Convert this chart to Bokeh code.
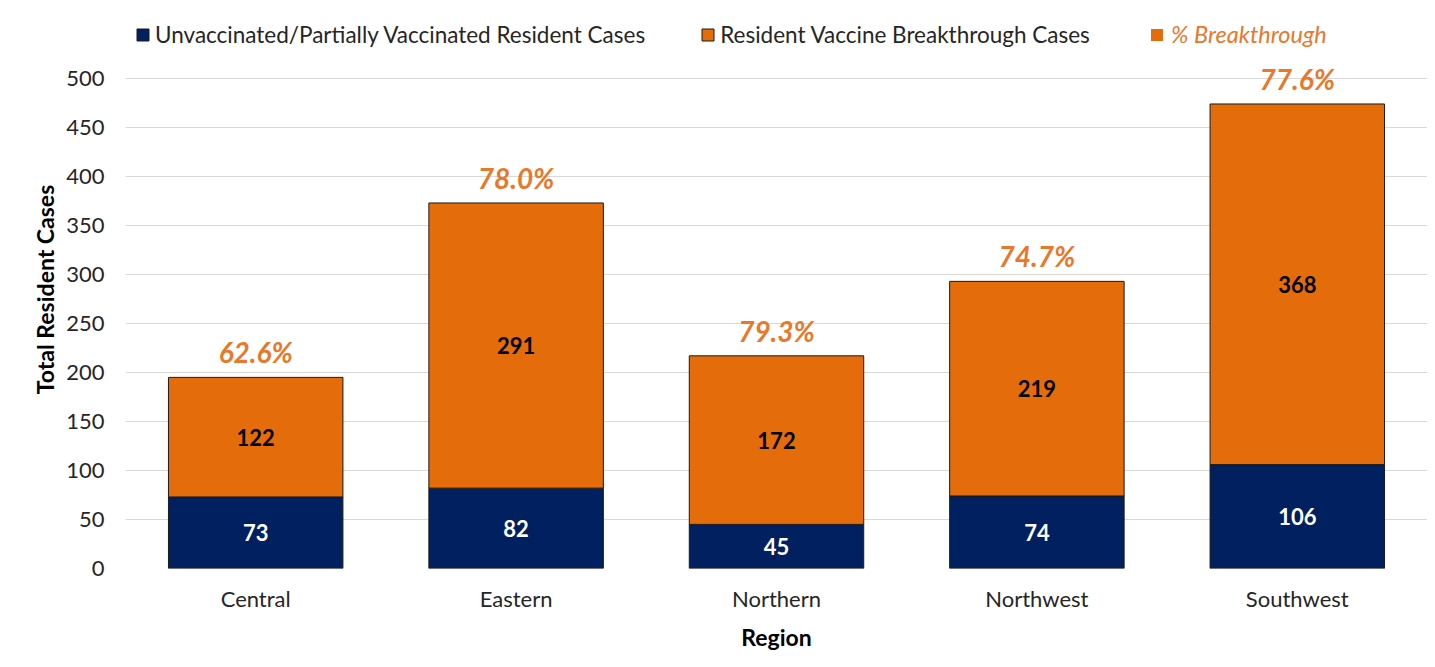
from bokeh.plotting import figure
from bokeh.models import (ColumnDataSource, FactorRange, FixedTicker, LabelSet,
                          Legend, LegendItem)
from bokeh.core.properties import value
from bokeh.embed import file_html
from bokeh.resources import INLINE

regions = ["Central", "Eastern", "Northern", "Northwest", "Southwest"]
unvaccinated = [73, 82, 45, 74, 106]
breakthrough = [122, 291, 172, 219, 368]
pct_labels = ["62.6%", "78.0%", "79.3%", "74.7%", "77.6%"]
y_ticks = [0, 50, 100, 150, 200, 250, 300, 350, 400, 450, 500]

NAVY = "#002060"
ORANGE = "#E46C0A"
TEXT_ORANGE = "#E8782A"
FONT = "Lato"

totals = [u + b for u, b in zip(unvaccinated, breakthrough)]
src = ColumnDataSource(dict(
    region=regions,
    unvac=unvaccinated,
    brk=breakthrough,
    total=totals,
    unvac_mid=[u / 2 for u in unvaccinated],
    brk_mid=[u + b / 2 for u, b in zip(unvaccinated, breakthrough)],
    unvac_txt=[str(v) for v in unvaccinated],
    brk_txt=[str(v) for v in breakthrough],
    pct=pct_labels,
))

# frame: 558 px tall, 490 px per 500 cases
p = figure(x_range=FactorRange(*regions, range_padding=0),
           y_range=(0, 500 * 558 / 490),
           width=1427, height=660, output_backend="svg", toolbar_location=None,
           min_border_left=125, min_border_right=0, min_border_top=10,
           min_border_bottom=92)
p.outline_line_color = None
p.background_fill_color = "white"
p.border_fill_color = "white"

r1 = p.vbar(x="region", bottom=0, top="unvac", width=0.67, source=src,
            fill_color=NAVY, line_color="#1a1a1a", line_width=1)
r2 = p.vbar(x="region", bottom="unvac", top="total", width=0.67, source=src,
            fill_color=ORANGE, line_color="#1a1a1a", line_width=1)
# zero-height bar, only used to give the "% Breakthrough" legend entry a swatch
dummy = p.vbar(x=[regions[0]], bottom=[0], top=[0], width=0.001,
               fill_color=ORANGE, line_color=None)

p.add_layout(LabelSet(x="region", y="unvac_mid", text="unvac_txt", source=src,
                      text_align="center", text_baseline="middle",
                      text_color="white", text_font=value(FONT),
                      text_font_style="bold", text_font_size="22px"))
p.add_layout(LabelSet(x="region", y="brk_mid", text="brk_txt", source=src,
                      text_align="center", text_baseline="middle",
                      text_color="black", text_font=value(FONT),
                      text_font_style="bold", text_font_size="22px"))
p.add_layout(LabelSet(x="region", y="total", text="pct", source=src,
                      y_offset=25, text_align="center", text_baseline="middle",
                      text_color=TEXT_ORANGE, text_font=value(FONT),
                      text_font_style="bold italic", text_font_size="28px"))

# axes
p.yaxis.ticker = FixedTicker(ticks=y_ticks)
for ax in (p.xaxis[0], p.yaxis[0]):
    ax.axis_line_color = None
    ax.major_tick_line_color = None
    ax.minor_tick_line_color = None
    ax.major_label_text_font = FONT
    ax.major_label_text_font_size = "22px"
    ax.major_label_text_color = "#262626"
    ax.axis_label_text_font = FONT
    ax.axis_label_text_font_style = "bold"
    ax.axis_label_text_font_size = "23px"
    ax.axis_label_text_color = "black"
p.xaxis.axis_label = "Region"
p.yaxis.axis_label = "Total Resident Cases"
p.xaxis.major_label_standoff = 10
p.yaxis.major_label_standoff = 15
p.xaxis.axis_label_standoff = 8
p.yaxis.axis_label_standoff = 4
p.xgrid.grid_line_color = None
p.ygrid.grid_line_color = "#d9d9d9"
p.ygrid.grid_line_width = 1

leg1 = Legend(items=[
    LegendItem(label="Unvaccinated/Partially Vaccinated Resident Cases", renderers=[r1]),
    LegendItem(label="Resident Vaccine Breakthrough Cases", renderers=[r2]),
], orientation="horizontal", location=(10, 520), padding=0, margin=0,
    spacing=55, glyph_width=15, glyph_height=15, label_standoff=5,
    label_text_font=FONT, label_text_font_size="22.5px", label_text_color="#262626",
    border_line_color=None, background_fill_alpha=0)
leg2 = Legend(items=[LegendItem(label="% Breakthrough", renderers=[dummy])],
              orientation="horizontal", location=(1024, 520), padding=0, margin=0,
              glyph_width=15, glyph_height=15, label_standoff=7,
              label_text_font=FONT, label_text_font_size="23.5px",
              label_text_font_style="italic", label_text_color=TEXT_ORANGE,
              border_line_color=None, background_fill_alpha=0)
p.add_layout(leg1)
p.add_layout(leg2)

open("out.html", "w").write(file_html(p, INLINE))
